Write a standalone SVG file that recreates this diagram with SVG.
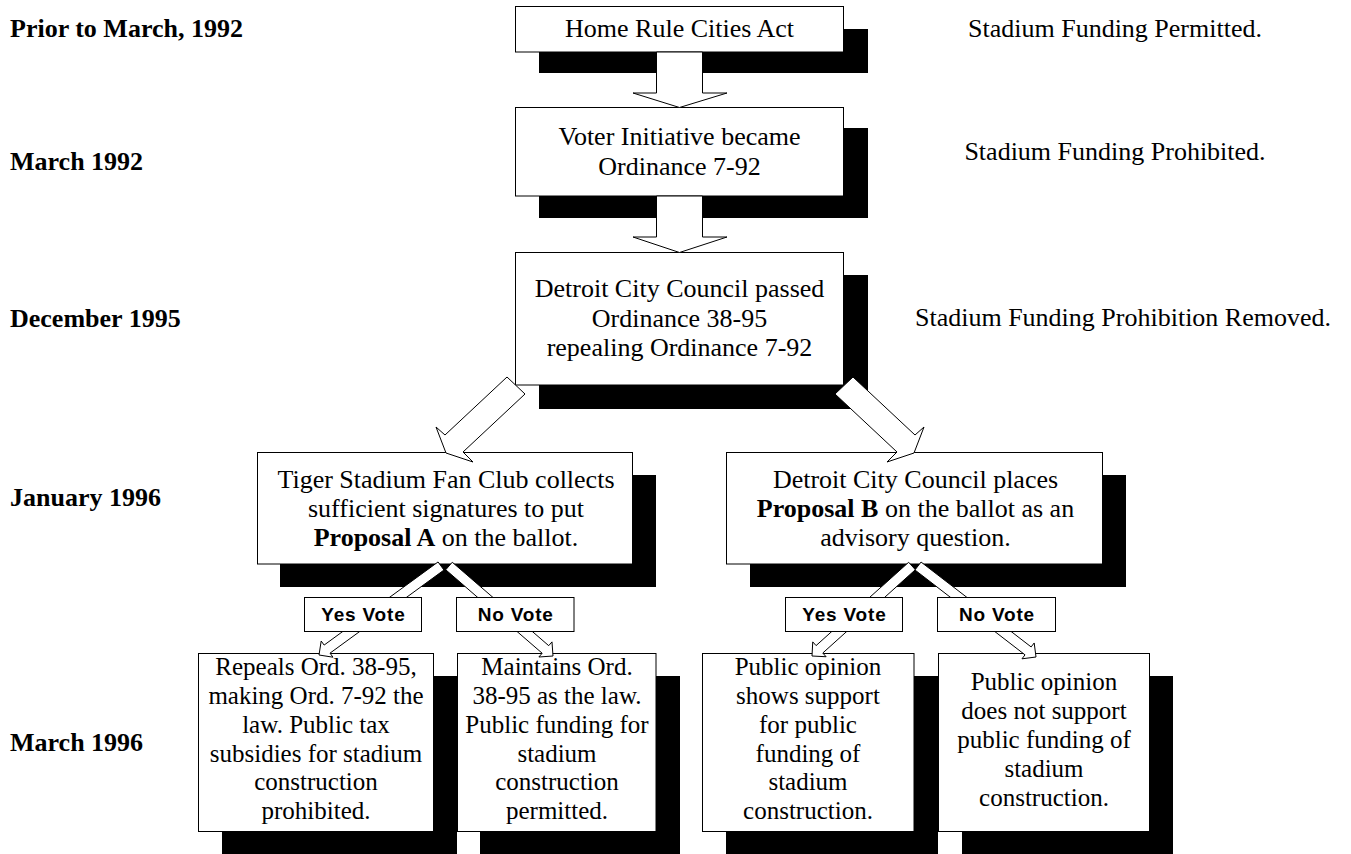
<svg xmlns="http://www.w3.org/2000/svg" width="1351" height="854" viewBox="0 0 1351 854">
<style>
.sh{fill:#000;stroke:none}
.bx{fill:#fff;stroke:#000;stroke-width:1}
.ar{fill:#fff;stroke:#000;stroke-width:1;stroke-linejoin:miter}
.t{font-family:"Liberation Serif","Times New Roman",serif;font-size:26px;fill:#000;text-anchor:middle}
.ts{font-family:"Liberation Serif","Times New Roman",serif;font-size:25px;fill:#000;text-anchor:middle}
.lb{font-family:"Liberation Serif","Times New Roman",serif;font-size:26px;font-weight:bold;fill:#000}
.v{font-family:"Liberation Sans",Arial,sans-serif;font-size:19px;font-weight:bold;letter-spacing:0.8px;fill:#000;text-anchor:middle}
.b{font-weight:bold}
</style>
<rect width="1351" height="854" fill="#fff"/>
<g id="labels">
<text class="lb" x="10" y="37">Prior to March, 1992</text>
<text class="lb" x="10" y="170">March 1992</text>
<text class="lb" x="10" y="327">December 1995</text>
<text class="lb" x="10" y="506">January 1996</text>
<text class="lb" x="10" y="751">March 1996</text>
<text class="t" x="1115" y="37">Stadium Funding Permitted.</text>
<text class="t" x="1115" y="160">Stadium Funding Prohibited.</text>
<text class="t" x="1123" y="326">Stadium Funding Prohibition Removed.</text>
</g>
<g id="n1">
<rect class="sh" x="539" y="29" width="329" height="44"/>
<rect class="bx" x="515.5" y="6.5" width="328" height="45.5"/>
<text class="t" x="679.5" y="37">Home Rule Cities Act</text>
</g>
<g id="n2">
<rect class="sh" x="539" y="128" width="329" height="90"/>
<rect class="bx" x="515.5" y="107.5" width="328" height="88.5"/>
<text class="t" x="679.5" y="145">Voter Initiative became</text>
<text class="t" x="679.5" y="175">Ordinance 7-92</text>
</g>
<g id="n3">
<rect class="sh" x="539" y="275" width="329" height="134"/>
<rect class="bx" x="515.5" y="252.5" width="328" height="132.5"/>
<text class="t" x="679.5" y="297">Detroit City Council passed</text>
<text class="t" x="679.5" y="326.5">Ordinance 38-95</text>
<text class="t" x="679.5" y="356">repealing Ordinance 7-92</text>
</g>
<g id="n4">
<rect class="sh" x="280" y="475" width="376" height="112"/>
<rect class="bx" x="257.5" y="452.5" width="375" height="111.5"/>
<text class="t" x="446" y="488">Tiger Stadium Fan Club collects</text>
<text class="t" x="446" y="517">sufficient signatures to put</text>
<text class="t" x="446" y="546"><tspan class="b">Proposal A</tspan> on the ballot.</text>
</g>
<g id="n5">
<rect class="sh" x="750" y="475" width="376" height="112"/>
<rect class="bx" x="726.5" y="452.5" width="376" height="111.5"/>
<text class="t" x="915.5" y="488">Detroit City Council places</text>
<text class="t" x="915.5" y="517"><tspan class="b">Proposal B</tspan> on the ballot as an</text>
<text class="t" x="915.5" y="546">advisory question.</text>
</g>
<g id="rA">
<rect class="sh" x="222" y="676" width="235" height="178"/>
<rect class="bx" x="198.5" y="653.5" width="235" height="178"/>
<text class="ts" x="316" y="675">Repeals Ord. 38-95,</text>
<text class="ts" x="316" y="704">making Ord. 7-92 the</text>
<text class="ts" x="316" y="733">law. Public tax</text>
<text class="ts" x="316" y="762">subsidies for stadium</text>
<text class="ts" x="316" y="790">construction</text>
<text class="ts" x="316" y="819">prohibited.</text>
</g>
<g id="rB">
<rect class="sh" x="480" y="676" width="200" height="178"/>
<rect class="bx" x="457.5" y="653.5" width="198.5" height="178"/>
<text class="ts" x="557" y="675">Maintains Ord.</text>
<text class="ts" x="557" y="704">38-95 as the law.</text>
<text class="ts" x="557" y="733">Public funding for</text>
<text class="ts" x="557" y="762">stadium</text>
<text class="ts" x="557" y="790">construction</text>
<text class="ts" x="557" y="819">permitted.</text>
</g>
<g id="rC">
<rect class="sh" x="726" y="676" width="212" height="178"/>
<rect class="bx" x="702.5" y="653.5" width="211.5" height="178"/>
<text class="ts" x="808" y="675">Public opinion</text>
<text class="ts" x="808" y="704">shows support</text>
<text class="ts" x="808" y="733">for public</text>
<text class="ts" x="808" y="762">funding of</text>
<text class="ts" x="808" y="790">stadium</text>
<text class="ts" x="808" y="819">construction.</text>
</g>
<g id="rD">
<rect class="sh" x="962" y="676" width="211" height="178"/>
<rect class="bx" x="938.5" y="653.5" width="211" height="178"/>
<text class="ts" x="1044" y="690">Public opinion</text>
<text class="ts" x="1044" y="719">does not support</text>
<text class="ts" x="1044" y="748">public funding of</text>
<text class="ts" x="1044" y="777">stadium</text>
<text class="ts" x="1044" y="806">construction.</text>
</g>
<g id="connectors">
<polygon class="ar" points="656.5,52 702.5,52 702.5,93 727,93 679.5,107.5 633,93 656.5,93"/>
<polygon class="ar" points="656.5,196 702.5,196 702.5,237 727,237 679.5,252.5 633,237 656.5,237"/>
<polygon class="ar" points="507,377 445,435 436,427 446,453 473,462 463,452 525,394"/>
<polygon class="ar" points="853,377 915,435 924,427 914,453 887,462 897,452 835,394"/>
<polygon class="ar" points="443.95,570.04 330.03,653.15 332.97,657.19 319,655 321.19,641.03 324.13,645.07 438.05,561.96"/>
<polygon class="ar" points="445.73,569.78 542.17,653.23 538.89,657.01 553,656 551.99,641.89 548.71,645.67 452.27,562.22"/>
<polygon class="ar" points="915.35,569.72 822.78,653.03 826.12,656.74 812,656 812.74,641.88 816.09,645.60 908.66,562.28"/>
<polygon class="ar" points="914.95,569.96 1025.03,654.85 1021.97,658.81 1036,657 1034.19,642.97 1031.13,646.93 921.05,562.04"/>
</g>
<g id="v1y">
<rect class="bx" x="304.5" y="597.5" width="117" height="34"/>
<text class="v" x="363.4" y="621">Yes Vote</text>
</g>
<g id="v1n">
<rect class="bx" x="456.5" y="597.5" width="117.5" height="34"/>
<text class="v" x="515.7" y="621">No Vote</text>
</g>
<g id="v2y">
<rect class="bx" x="785.5" y="597.5" width="117" height="34"/>
<text class="v" x="844.4" y="621">Yes Vote</text>
</g>
<g id="v2n">
<rect class="bx" x="937.5" y="597.5" width="118" height="34"/>
<text class="v" x="996.9" y="621">No Vote</text>
</g>
</svg>
